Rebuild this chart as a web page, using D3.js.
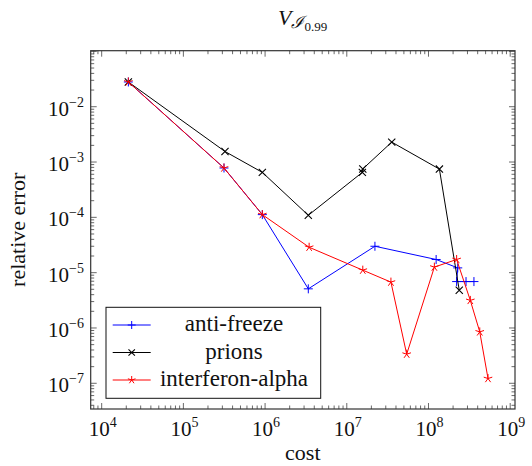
<!DOCTYPE html>
<html><head><meta charset="utf-8">
<script src="https://cdn.jsdelivr.net/npm/d3@7"></script>
<style>body{margin:0;background:#fff}svg{display:block}</style>
</head><body>
<svg id="c" width="532" height="466"></svg>
<script>
// ---- data ----
const seriesNames = ["anti-freeze", "prions", "interferon-alpha"];
const antiFreezeCost = [2.12e4, 3.14e5, 9.25e5, 3.38e6, 2.21e7, 1.24e8, 2.28e8, 2.21e8, 2.88e8, 3.6e8];
const antiFreezeErr  = [2.8e-2, 7.8e-4, 1.12e-4, 5.1e-6, 3.0e-5, 1.73e-5, 1.22e-5, 6.9e-6, 6.9e-6, 6.9e-6];
const prionsCost = [2.12e4, 3.23e5, 9.25e5, 3.38e6, 1.55e7, 1.57e7, 3.55e7, 1.36e8, 2.38e8];
const prionsErr  = [2.8e-2, 1.55e-3, 6.5e-4, 1.09e-4, 6.5e-4, 7.5e-4, 2.29e-3, 7.45e-4, 4.8e-6];
const interferonCost = [2.12e4, 3.14e5, 9.25e5, 3.46e6, 1.57e7, 3.47e7, 5.41e7, 1.18e8, 2.21e8, 3.25e8, 4.24e8, 5.35e8];
const interferonErr  = [2.8e-2, 7.8e-4, 1.12e-4, 2.88e-5, 1.11e-5, 6.75e-6, 3.36e-7, 1.26e-5, 1.73e-5, 3.15e-6, 8.5e-7, 1.22e-7];
const xTickExps = [4, 5, 6, 7, 8, 9];
const yTickExps = [-2, -3, -4, -5, -6, -7];
const xLimits = [7338, 1.145e9];
const yLimits = [0.1029, 3.43e-8];

// ---- layout ----
const L = 90.7, R = 515, T = 50.7, B = 409;
const svg = d3.select("#c");
const FONT = "'Liberation Serif', 'DejaVu Serif', serif";
const x = d3.scaleLog().domain(xLimits).range([L, R]);
const y = d3.scaleLog().domain(yLimits).range([T, B]);

const series = [
  {name: seriesNames[0], color: "#0000ff", mark: "plus", cost: antiFreezeCost, err: antiFreezeErr},
  {name: seriesNames[1], color: "#000000", mark: "cross", cost: prionsCost, err: prionsErr},
  {name: seriesNames[2], color: "#ff0000", mark: "star", cost: interferonCost, err: interferonErr}
];

// ---- ticks ----
const g = svg.append("g");
const tickCol = "#444";
function minorVals(lo, hi){
  const out = [];
  const a = Math.min(lo, hi), b = Math.max(lo, hi);
  for (let e = -10; e <= 10; e++) for (let m = 1; m <= 9; m++) {
    const v = m * Math.pow(10, e);
    if (v >= a && v <= b) out.push({v, major: m === 1});
  }
  return out;
}
minorVals(xLimits[0], xLimits[1]).forEach(t => {
  const px = x(t.v), len = t.major ? 6 : 3.5;
  g.append("line").attr("x1", px).attr("x2", px).attr("y1", B).attr("y2", B - len).attr("stroke", tickCol).attr("stroke-width", 0.8);
  g.append("line").attr("x1", px).attr("x2", px).attr("y1", T).attr("y2", T + len).attr("stroke", tickCol).attr("stroke-width", 0.8);
});
minorVals(yLimits[1], yLimits[0]).forEach(t => {
  const py = y(t.v), len = t.major ? 6 : 3.5;
  g.append("line").attr("y1", py).attr("y2", py).attr("x1", L).attr("x2", L + len).attr("stroke", tickCol).attr("stroke-width", 0.8);
  g.append("line").attr("y1", py).attr("y2", py).attr("x1", R).attr("x2", R - len).attr("stroke", tickCol).attr("stroke-width", 0.8);
});

// frame
svg.append("rect").attr("x", L).attr("y", T).attr("width", R - L).attr("height", B - T)
  .attr("fill", "none").attr("stroke", "#333").attr("stroke-width", 1.2);

// tick labels
xTickExps.forEach(e => {
  const t = svg.append("text").attr("x", x(Math.pow(10, e)) + 1).attr("y", 436)
    .attr("text-anchor", "middle").attr("font-family", FONT).attr("font-size", 21).attr("fill", "#111");
  t.append("tspan").text("10");
  t.append("tspan").attr("font-size", 14).attr("dy", -9).text(String(e));
});
yTickExps.forEach(e => {
  const t = svg.append("text").attr("x", 84).attr("y", y(Math.pow(10, e)) + 9)
    .attr("text-anchor", "end").attr("font-family", FONT).attr("font-size", 21).attr("fill", "#111");
  t.append("tspan").text("10");
  t.append("tspan").attr("font-size", 14).attr("dy", -9).text("\u2212" + String(-e));
});

// axis titles
svg.append("text").attr("x", (L + R) / 2).attr("y", 460).attr("text-anchor", "middle")
  .attr("font-family", FONT).attr("font-size", 22).attr("fill", "#111").text("cost");
svg.append("text").attr("transform", `translate(25,${(T + B) / 2}) rotate(-90)`).attr("text-anchor", "middle")
  .attr("font-family", FONT).attr("font-size", 22).attr("fill", "#111").text("relative error");

// title
const title = svg.append("text").attr("x", 278).attr("y", 25).attr("font-family", FONT).attr("font-size", 22).attr("fill", "#111");
title.append("tspan").attr("font-style", "italic").text("V");
title.append("tspan").attr("font-size", 17).attr("dy", 3).attr("font-style", "italic").attr("font-family", "'DejaVu Serif', serif").text("\u2110");
title.append("tspan").attr("font-size", 13).attr("dy", 3).text("0.99");

// ---- markers ----
function drawMark(sel, type, cx, cy, color, r){
  if (type === "plus") {
    sel.append("path").attr("d", `M${cx - r},${cy}H${cx + r}M${cx},${cy - r}V${cy + r}`).attr("stroke", color).attr("stroke-width", 1).attr("fill", "none");
  } else if (type === "cross") {
    const q = r * 0.8;
    sel.append("path").attr("d", `M${cx - q},${cy - q}L${cx + q},${cy + q}M${cx - q},${cy + q}L${cx + q},${cy - q}`).attr("stroke", color).attr("stroke-width", 1.1).attr("fill", "none");
  } else {
    let d = "";
    for (let k = 0; k < 5; k++) {
      const a = -Math.PI / 2 + k * 2 * Math.PI / 5;
      d += `M${cx},${cy}L${cx + r * Math.cos(a)},${cy + r * Math.sin(a)}`;
    }
    sel.append("path").attr("d", d).attr("stroke", color).attr("stroke-width", 1).attr("fill", "none");
  }
}

const line = d3.line().x(d => x(d[0])).y(d => y(d[1]));
const plot = svg.append("g");
series.forEach(s => {
  const pts = s.cost.map((c, i) => [c, s.err[i]]);
  plot.append("path").datum(pts).attr("d", line).attr("fill", "none").attr("stroke", s.color).attr("stroke-width", 1);
  const mg = plot.append("g");
  pts.forEach(p => drawMark(mg, s.mark, x(p[0]), y(p[1]), s.color, 4.5));
});

// ---- legend ----
const lg = svg.append("g");
lg.append("rect").attr("x", 106).attr("y", 307.3).attr("width", 214.7).attr("height", 91)
  .attr("fill", "#fff").attr("stroke", "#111").attr("stroke-width", 1);
series.forEach((s, i) => {
  const cy = 325 + i * 27.5;
  lg.append("line").attr("x1", 112.7).attr("x2", 150.7).attr("y1", cy).attr("y2", cy).attr("stroke", s.color).attr("stroke-width", 1);
  drawMark(lg, s.mark, 131.7, cy, s.color, 4);
  lg.append("text").attr("x", 234).attr("y", cy + 6).attr("text-anchor", "middle")
    .attr("font-family", FONT).attr("font-size", 23).attr("fill", "#111").text(s.name);
});
</script>
</body></html>
